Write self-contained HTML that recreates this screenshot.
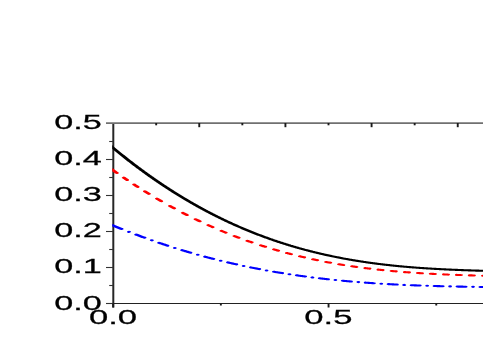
<!DOCTYPE html>
<html><head><meta charset="utf-8"><style>
html,body{margin:0;padding:0;background:#fff;}
svg{display:block;will-change:transform;}
text{font-family:"Liberation Sans",sans-serif;font-size:20.9px;fill:#000;stroke:#000;stroke-width:0.35;vector-effect:non-scaling-stroke;}
.tk{stroke:#333;stroke-width:1.1;}
.tk2{stroke:#1a1a1a;stroke-width:1.9;}
.cv path{fill:none;stroke-width:2.1;stroke-linecap:round;}
</style></head><body>
<svg width="483" height="345" viewBox="0 0 483 345">
<rect width="483" height="345" fill="#fff"/>
<line x1="113.3" y1="303.5" x2="483" y2="303.5" stroke="#222" stroke-width="1.1"/>
<line x1="113.3" y1="123" x2="113.3" y2="307.5" stroke="#262626" stroke-width="2"/>
<line x1="106.0" y1="123.2" x2="483" y2="123.2" stroke="#707070" stroke-width="1.7"/>
<line x1="106.0" y1="303.5" x2="113.3" y2="303.5" class="tk"/>
<line x1="106.0" y1="267.5" x2="113.3" y2="267.5" class="tk"/>
<line x1="106.0" y1="231.5" x2="113.3" y2="231.5" class="tk"/>
<line x1="106.0" y1="195.5" x2="113.3" y2="195.5" class="tk"/>
<line x1="106.0" y1="159.5" x2="113.3" y2="159.5" class="tk"/>
<line x1="109.2" y1="285.5" x2="113.3" y2="285.5" class="tk"/>
<line x1="109.2" y1="249.5" x2="113.3" y2="249.5" class="tk"/>
<line x1="109.2" y1="213.5" x2="113.3" y2="213.5" class="tk"/>
<line x1="109.2" y1="177.5" x2="113.3" y2="177.5" class="tk"/>
<line x1="109.2" y1="141.5" x2="113.3" y2="141.5" class="tk"/>
<line x1="156.18" y1="123" x2="156.18" y2="125.3" class="tk2"/>
<line x1="199.26" y1="123" x2="199.26" y2="127.2" class="tk2"/>
<line x1="242.34" y1="123" x2="242.34" y2="125.3" class="tk2"/>
<line x1="285.42" y1="123" x2="285.42" y2="127.2" class="tk2"/>
<line x1="328.50" y1="123" x2="328.50" y2="125.3" class="tk2"/>
<line x1="371.58" y1="123" x2="371.58" y2="127.2" class="tk2"/>
<line x1="414.66" y1="123" x2="414.66" y2="125.3" class="tk2"/>
<line x1="457.74" y1="123" x2="457.74" y2="127.2" class="tk2"/>
<line x1="113.15" y1="303.5" x2="113.15" y2="307.5" class="tk2"/>
<line x1="220.85" y1="303.5" x2="220.85" y2="305.5" class="tk2"/>
<line x1="328.55" y1="303.5" x2="328.55" y2="307.5" class="tk2"/>
<line x1="436.25" y1="303.5" x2="436.25" y2="305.5" class="tk2"/>
<clipPath id="cp"><rect x="62.389" y="100" width="400" height="220"/></clipPath>
<g class="cv" transform="scale(1.8,1)" clip-path="url(#cp)">
<path d="M60.722,223.91 L60.848,224.01 L61.189,224.26 L61.530,224.52 L61.871,224.78 L62.211,225.03 L62.552,225.29 L62.893,225.54 L63.234,225.80 L63.574,226.05 L63.915,226.30 L64.256,226.55 L64.597,226.81 L64.938,227.06 L65.278,227.31 L65.619,227.56 L65.960,227.80 L66.301,228.05 L66.642,228.30 L66.982,228.55 L67.323,228.79 L67.556,228.96 M71.622,231.85 L71.633,231.86 M75.689,234.65 L75.843,234.75 L76.183,234.98 L76.524,235.21 L76.865,235.44 L77.206,235.67 L77.547,235.90 L77.887,236.12 L78.228,236.35 L78.569,236.57 L78.910,236.80 L79.250,237.02 L79.591,237.25 L79.932,237.47 L80.273,237.69 L80.300,237.71 M84.367,240.32 L84.378,240.33 M88.433,242.84 L88.452,242.85 L88.792,243.06 L89.133,243.27 L89.474,243.48 L89.815,243.68 L90.156,243.89 L90.496,244.09 L90.837,244.29 L91.178,244.50 L91.519,244.70 L91.859,244.90 L92.200,245.10 L92.541,245.30 L92.882,245.50 L93.044,245.60 M97.111,247.94 L97.122,247.94 M101.178,250.19 L101.401,250.31 L101.742,250.50 L102.083,250.68 L102.424,250.87 L102.764,251.05 L103.105,251.23 L103.446,251.41 L103.787,251.60 L104.128,251.78 L104.468,251.96 L104.809,252.14 L105.150,252.32 L105.491,252.49 L105.789,252.65 M109.856,254.73 L109.867,254.73 M113.922,256.72 L114.010,256.77 L114.351,256.93 L114.692,257.09 L115.033,257.25 L115.373,257.42 L115.714,257.58 L116.055,257.74 L116.396,257.90 L116.737,258.06 L117.077,258.22 L117.418,258.37 L117.759,258.53 L118.100,258.69 L118.440,258.85 L118.533,258.89 M122.600,260.72 L122.611,260.72 M126.667,262.46 L126.960,262.59 L127.301,262.73 L127.642,262.87 L127.982,263.01 L128.323,263.15 L128.664,263.29 L129.005,263.43 L129.346,263.57 L129.686,263.71 L130.027,263.85 L130.368,263.99 L130.709,264.13 L131.049,264.26 L131.278,264.35 M135.344,265.94 L135.356,265.94 M139.411,267.45 L139.569,267.51 L139.910,267.63 L140.251,267.75 L140.591,267.88 L140.932,268.00 L141.273,268.12 L141.614,268.24 L141.954,268.36 L142.295,268.48 L142.636,268.60 L142.977,268.72 L143.318,268.84 L143.658,268.95 L143.999,269.07 L144.022,269.08 M148.089,270.44 L148.100,270.44 M152.156,271.73 L152.178,271.73 L152.519,271.84 L152.860,271.94 L153.200,272.05 L153.541,272.15 L153.882,272.25 L154.223,272.36 L154.563,272.46 L154.904,272.56 L155.245,272.66 L155.586,272.76 L155.927,272.86 L156.267,272.96 L156.608,273.06 L156.767,273.11 M160.833,274.25 L160.844,274.26 M164.900,275.33 L165.128,275.39 L165.468,275.48 L165.809,275.57 L166.150,275.65 L166.491,275.74 L166.832,275.83 L167.172,275.91 L167.513,276.00 L167.854,276.08 L168.195,276.16 L168.536,276.25 L168.876,276.33 L169.217,276.41 L169.511,276.48 M173.578,277.43 L173.589,277.44 M177.644,278.32 L177.737,278.34 L178.077,278.41 L178.418,278.49 L178.759,278.56 L179.100,278.63 L179.441,278.70 L179.781,278.77 L180.122,278.84 L180.463,278.91 L180.804,278.97 L181.144,279.04 L181.485,279.11 L181.826,279.18 L182.167,279.24 L182.256,279.26 M186.322,280.03 L186.333,280.03 M190.389,280.75 L190.686,280.80 L191.027,280.85 L191.368,280.91 L191.709,280.97 L192.050,281.02 L192.390,281.08 L192.731,281.14 L193.072,281.19 L193.413,281.24 L193.753,281.30 L194.094,281.35 L194.435,281.41 L194.776,281.46 L195.000,281.50 M199.067,282.10 L199.078,282.10 M203.133,282.66 L203.295,282.68 L203.636,282.73 L203.977,282.77 L204.318,282.82 L204.658,282.86 L204.999,282.90 L205.340,282.95 L205.681,282.99 L206.022,283.03 L206.362,283.07 L206.703,283.12 L207.044,283.16 L207.385,283.20 L207.726,283.24 L207.744,283.24 M211.811,283.71 L211.815,283.71 L211.822,283.71 M215.878,284.13 L215.904,284.14 L216.245,284.17 L216.586,284.20 L216.927,284.24 L217.267,284.27 L217.608,284.30 L217.949,284.34 L218.290,284.37 L218.631,284.40 L218.971,284.43 L219.312,284.46 L219.653,284.49 L219.994,284.52 L220.335,284.56 L220.489,284.57 M224.556,284.91 L224.567,284.92 M228.622,285.23 L228.854,285.24 L229.195,285.27 L229.536,285.29 L229.876,285.32 L230.217,285.34 L230.558,285.36 L230.899,285.39 L231.240,285.41 L231.580,285.43 L231.921,285.46 L232.262,285.48 L232.603,285.50 L232.943,285.52 L233.233,285.54 M237.300,285.79 L237.311,285.79 M241.367,286.01 L241.463,286.02 L241.804,286.03 L242.145,286.05 L242.485,286.07 L242.826,286.09 L243.167,286.10 L243.508,286.12 L243.849,286.14 L244.189,286.15 L244.530,286.17 L244.871,286.18 L245.212,286.20 L245.552,286.22 L245.893,286.23 L245.978,286.23 M250.044,286.41 L250.056,286.41 M254.111,286.57 L254.413,286.58 L254.754,286.59 L255.094,286.60 L255.435,286.61 L255.776,286.63 L256.117,286.64 L256.457,286.65 L256.798,286.66 L257.139,286.67 L257.480,286.68 L257.821,286.69 L258.161,286.71 L258.502,286.72 L258.722,286.72 M262.789,286.85 L262.800,286.85 M266.856,286.97 L267.022,286.97 L267.363,286.98 L267.703,286.99 L268.044,287.00 L268.385,287.01 L268.726,287.02 L269.066,287.03 L269.407,287.04 L269.748,287.05 L270.089,287.06 L270.430,287.06 L270.770,287.07 L271.111,287.08" stroke="#0000ff"/>
<path d="M60.778,167.66 L60.848,167.75 L61.189,168.19 L61.530,168.63 L61.871,169.07 L62.211,169.50 L62.552,169.94 L62.893,170.37 L63.234,170.81 L63.574,171.24 L63.915,171.67 L64.256,172.10 L64.597,172.53 L64.886,172.90 M68.750,177.69 L69.027,178.02 L69.368,178.44 L69.709,178.85 L70.049,179.26 L70.390,179.68 L70.636,179.97 M74.500,184.56 L74.820,184.93 L75.161,185.33 L75.502,185.72 L75.843,186.12 L76.183,186.51 L76.468,186.84 M80.500,191.40 L80.614,191.53 L80.954,191.91 L81.295,192.28 L81.636,192.66 L81.977,193.04 L82.318,193.41 L82.658,193.78 L82.687,193.81 M87.167,198.63 L87.429,198.90 L87.770,199.26 L88.111,199.62 L88.452,199.97 L88.792,200.33 L89.133,200.68 L89.474,201.03 L89.554,201.12 M94.444,206.06 L94.586,206.20 L94.926,206.53 L95.267,206.87 L95.608,207.20 L95.949,207.54 L96.290,207.87 L96.630,208.20 L96.777,208.34 M101.556,212.87 L101.742,213.05 L102.083,213.36 L102.424,213.67 L102.764,213.99 L103.105,214.30 L103.446,214.61 L103.787,214.92 L103.888,215.01 M108.667,219.25 L108.899,219.45 L109.239,219.75 L109.580,220.04 L109.921,220.33 L110.262,220.62 L110.602,220.91 L110.943,221.20 L110.999,221.25 M115.778,225.20 L116.055,225.43 L116.396,225.70 L116.737,225.98 L117.077,226.25 L117.418,226.52 L117.759,226.79 L118.100,227.06 L118.165,227.11 M123.056,230.87 L123.211,230.98 L123.552,231.24 L123.893,231.49 L124.234,231.74 L124.575,231.99 L124.915,232.24 L125.256,232.49 L125.415,232.61 M130.250,236.04 L130.368,236.13 L130.709,236.36 L131.049,236.60 L131.390,236.83 L131.731,237.06 L132.072,237.29 L132.413,237.52 L132.610,237.65 M137.444,240.82 L137.524,240.87 L137.865,241.09 L138.206,241.30 L138.547,241.52 L138.887,241.73 L139.228,241.94 L139.569,242.15 L139.910,242.37 L139.914,242.37 M144.972,245.40 L145.022,245.43 L145.362,245.62 L145.703,245.82 L146.044,246.02 L146.385,246.21 L146.725,246.40 L147.066,246.60 L147.350,246.76 M152.222,249.42 L152.519,249.57 L152.860,249.75 L153.200,249.93 L153.541,250.11 L153.882,250.28 L154.223,250.46 L154.563,250.63 L154.566,250.64 M159.367,253.02 L159.675,253.16 L160.016,253.33 L160.357,253.49 L160.698,253.65 L161.038,253.81 L161.379,253.97 L161.720,254.13 L161.743,254.14 M166.611,256.31 L166.832,256.41 L167.172,256.56 L167.513,256.70 L167.854,256.85 L168.195,256.99 L168.536,257.13 L168.876,257.28 L168.998,257.33 M173.889,259.29 L173.988,259.33 L174.329,259.46 L174.670,259.59 L175.010,259.72 L175.351,259.85 L175.692,259.97 L176.033,260.10 L176.264,260.19 M181.130,261.93 L181.144,261.93 L181.485,262.05 L181.826,262.16 L182.167,262.28 L182.508,262.39 L182.848,262.51 L183.189,262.62 L183.505,262.72 M188.370,264.26 L188.642,264.34 L188.982,264.45 L189.323,264.55 L189.664,264.65 L190.005,264.75 L190.346,264.85 L190.686,264.95 L190.745,264.96 M195.611,266.31 L195.798,266.36 L196.139,266.45 L196.480,266.54 L196.820,266.63 L197.161,266.72 L197.502,266.80 L197.843,266.89 L198.004,266.93 M202.907,268.11 L202.955,268.12 L203.295,268.20 L203.636,268.27 L203.977,268.35 L204.318,268.43 L204.658,268.50 L204.999,268.58 L205.301,268.64 M210.204,269.66 L210.452,269.70 L210.793,269.77 L211.133,269.84 L211.474,269.90 L211.815,269.97 L212.156,270.03 L212.496,270.09 L212.597,270.11 M217.500,270.97 L217.608,270.99 L217.949,271.05 L218.290,271.10 L218.631,271.16 L218.971,271.22 L219.312,271.27 L219.653,271.32 L219.924,271.37 M224.889,272.10 L225.105,272.13 L225.446,272.18 L225.787,272.22 L226.128,272.27 L226.469,272.32 L226.809,272.36 L227.150,272.41 L227.258,272.42 M232.111,273.02 L232.262,273.03 L232.603,273.07 L232.943,273.11 L233.284,273.15 L233.625,273.19 L233.966,273.23 L234.307,273.26 L234.462,273.28 M239.278,273.77 L239.418,273.79 L239.759,273.82 L240.100,273.85 L240.441,273.88 L240.781,273.91 L241.122,273.94 L241.463,273.97 L241.683,273.99 M246.611,274.41 L246.916,274.43 L247.256,274.46 L247.597,274.48 L247.938,274.51 L248.279,274.54 L248.619,274.56 L248.960,274.59 L248.962,274.59 M253.778,274.92 L254.072,274.94 L254.413,274.96 L254.754,274.98 L255.094,275.00 L255.435,275.03 L255.776,275.05 L256.117,275.07 L256.128,275.07 M260.944,275.35 L261.228,275.36 L261.569,275.38 L261.910,275.40 L262.251,275.42 L262.592,275.44 L262.932,275.46 L263.273,275.47 L263.350,275.48 M268.278,275.73 L268.385,275.73 L268.726,275.75 L269.066,275.77 L269.407,275.78 L269.748,275.80 L270.089,275.82 L270.430,275.83 L270.665,275.84" stroke="#ff0000"/>
<path d="M60.167,143.88 L60.507,144.39 L60.848,144.91 L61.189,145.43 L61.530,145.94 L61.871,146.45 L62.211,146.96 L62.552,147.47 L62.893,147.98 L63.234,148.49 L63.574,149.00 L63.915,149.50 L64.256,150.01 L64.597,150.51 L64.938,151.01 L65.278,151.51 L65.619,152.01 L65.960,152.51 L66.301,153.00 L66.642,153.50 L66.982,153.99 L67.323,154.49 L67.664,154.98 L68.005,155.47 L68.345,155.96 L68.686,156.44 L69.027,156.93 L69.368,157.42 L69.709,157.90 L70.049,158.38 L70.390,158.86 L70.731,159.34 L71.072,159.82 L71.412,160.30 L71.753,160.78 L72.094,161.25 L72.435,161.73 L72.776,162.20 L73.116,162.67 L73.457,163.14 L73.798,163.61 L74.139,164.08 L74.480,164.54 L74.820,165.01 L75.161,165.47 L75.502,165.93 L75.843,166.39 L76.183,166.85 L76.524,167.31 L76.865,167.77 L77.206,168.23 L77.547,168.68 L77.887,169.14 L78.228,169.59 L78.569,170.04 L78.910,170.49 L79.250,170.94 L79.591,171.39 L79.932,171.83 L80.273,172.28 L80.614,172.72 L80.954,173.17 L81.295,173.61 L81.636,174.05 L81.977,174.49 L82.318,174.92 L82.658,175.36 L82.999,175.80 L83.340,176.23 L83.681,176.66 L84.021,177.09 L84.362,177.53 L84.703,177.95 L85.044,178.38 L85.385,178.81 L85.725,179.23 L86.066,179.66 L86.407,180.08 L86.748,180.50 L87.088,180.92 L87.429,181.34 L87.770,181.76 L88.111,182.18 L88.452,182.60 L88.792,183.01 L89.133,183.42 L89.474,183.84 L89.815,184.25 L90.156,184.66 L90.496,185.07 L90.837,185.47 L91.178,185.88 L91.519,186.28 L91.859,186.69 L92.200,187.09 L92.541,187.49 L92.882,187.89 L93.223,188.29 L93.563,188.69 L93.904,189.08 L94.245,189.48 L94.586,189.87 L94.926,190.27 L95.267,190.66 L95.608,191.05 L95.949,191.44 L96.290,191.83 L96.630,192.21 L96.971,192.60 L97.312,192.98 L97.653,193.37 L97.994,193.75 L98.334,194.13 L98.675,194.51 L99.016,194.89 L99.357,195.27 L99.697,195.64 L100.038,196.02 L100.379,196.39 L100.720,196.77 L101.061,197.14 L101.401,197.51 L101.742,197.88 L102.083,198.25 L102.424,198.61 L102.764,198.98 L103.105,199.34 L103.446,199.71 L103.787,200.07 L104.128,200.43 L104.468,200.79 L104.809,201.15 L105.150,201.51 L105.491,201.86 L105.832,202.22 L106.172,202.57 L106.513,202.93 L106.854,203.28 L107.195,203.63 L107.535,203.98 L107.876,204.33 L108.217,204.67 L108.558,205.02 L108.899,205.36 L109.239,205.71 L109.580,206.05 L109.921,206.39 L110.262,206.73 L110.602,207.07 L110.943,207.41 L111.284,207.75 L111.625,208.08 L111.966,208.42 L112.306,208.75 L112.647,209.08 L112.988,209.41 L113.329,209.74 L113.670,210.07 L114.010,210.40 L114.351,210.73 L114.692,211.05 L115.033,211.38 L115.373,211.70 L115.714,212.02 L116.055,212.35 L116.396,212.67 L116.737,212.98 L117.077,213.30 L117.418,213.62 L117.759,213.93 L118.100,214.25 L118.440,214.56 L118.781,214.87 L119.122,215.19 L119.463,215.50 L119.804,215.80 L120.144,216.11 L120.485,216.42 L120.826,216.72 L121.167,217.03 L121.508,217.33 L121.848,217.63 L122.189,217.94 L122.530,218.24 L122.871,218.53 L123.211,218.83 L123.552,219.13 L123.893,219.43 L124.234,219.72 L124.575,220.01 L124.915,220.31 L125.256,220.60 L125.597,220.89 L125.938,221.18 L126.278,221.46 L126.619,221.75 L126.960,222.04 L127.301,222.32 L127.642,222.61 L127.982,222.89 L128.323,223.17 L128.664,223.45 L129.005,223.73 L129.346,224.01 L129.686,224.29 L130.027,224.56 L130.368,224.84 L130.709,225.11 L131.049,225.39 L131.390,225.66 L131.731,225.93 L132.072,226.20 L132.413,226.47 L132.753,226.74 L133.094,227.00 L133.435,227.27 L133.776,227.53 L134.116,227.80 L134.457,228.06 L134.798,228.32 L135.139,228.58 L135.480,228.84 L135.820,229.10 L136.161,229.36 L136.502,229.61 L136.843,229.87 L137.184,230.12 L137.524,230.38 L137.865,230.63 L138.206,230.88 L138.547,231.13 L138.887,231.38 L139.228,231.63 L139.569,231.87 L139.910,232.12 L140.251,232.37 L140.591,232.61 L140.932,232.85 L141.273,233.10 L141.614,233.34 L141.954,233.58 L142.295,233.82 L142.636,234.05 L142.977,234.29 L143.318,234.53 L143.658,234.76 L143.999,235.00 L144.340,235.23 L144.681,235.46 L145.022,235.69 L145.362,235.92 L145.703,236.15 L146.044,236.38 L146.385,236.61 L146.725,236.83 L147.066,237.06 L147.407,237.28 L147.748,237.50 L148.089,237.73 L148.429,237.95 L148.770,238.17 L149.111,238.39 L149.452,238.61 L149.792,238.82 L150.133,239.04 L150.474,239.26 L150.815,239.47 L151.156,239.68 L151.496,239.90 L151.837,240.11 L152.178,240.32 L152.519,240.53 L152.860,240.74 L153.200,240.94 L153.541,241.15 L153.882,241.36 L154.223,241.56 L154.563,241.77 L154.904,241.97 L155.245,242.17 L155.586,242.37 L155.927,242.57 L156.267,242.77 L156.608,242.97 L156.949,243.17 L157.290,243.36 L157.630,243.56 L157.971,243.75 L158.312,243.95 L158.653,244.14 L158.994,244.33 L159.334,244.52 L159.675,244.71 L160.016,244.90 L160.357,245.09 L160.698,245.28 L161.038,245.46 L161.379,245.65 L161.720,245.83 L162.061,246.02 L162.401,246.20 L162.742,246.38 L163.083,246.56 L163.424,246.74 L163.765,246.92 L164.105,247.10 L164.446,247.28 L164.787,247.45 L165.128,247.63 L165.468,247.80 L165.809,247.98 L166.150,248.15 L166.491,248.32 L166.832,248.49 L167.172,248.66 L167.513,248.83 L167.854,249.00 L168.195,249.17 L168.536,249.34 L168.876,249.50 L169.217,249.67 L169.558,249.83 L169.899,250.00 L170.239,250.16 L170.580,250.32 L170.921,250.48 L171.262,250.64 L171.603,250.80 L171.943,250.96 L172.284,251.12 L172.625,251.27 L172.966,251.43 L173.306,251.58 L173.647,251.74 L173.988,251.89 L174.329,252.04 L174.670,252.19 L175.010,252.34 L175.351,252.49 L175.692,252.64 L176.033,252.79 L176.374,252.94 L176.714,253.09 L177.055,253.23 L177.396,253.38 L177.737,253.52 L178.077,253.66 L178.418,253.81 L178.759,253.95 L179.100,254.09 L179.441,254.23 L179.781,254.37 L180.122,254.51 L180.463,254.65 L180.804,254.78 L181.144,254.92 L181.485,255.05 L181.826,255.19 L182.167,255.32 L182.508,255.46 L182.848,255.59 L183.189,255.72 L183.530,255.85 L183.871,255.98 L184.212,256.11 L184.552,256.24 L184.893,256.37 L185.234,256.49 L185.575,256.62 L185.915,256.74 L186.256,256.87 L186.597,256.99 L186.938,257.12 L187.279,257.24 L187.619,257.36 L187.960,257.48 L188.301,257.60 L188.642,257.72 L188.982,257.84 L189.323,257.96 L189.664,258.07 L190.005,258.19 L190.346,258.31 L190.686,258.42 L191.027,258.54 L191.368,258.65 L191.709,258.76 L192.050,258.88 L192.390,258.99 L192.731,259.10 L193.072,259.21 L193.413,259.32 L193.753,259.43 L194.094,259.53 L194.435,259.64 L194.776,259.75 L195.117,259.85 L195.457,259.96 L195.798,260.06 L196.139,260.17 L196.480,260.27 L196.820,260.37 L197.161,260.47 L197.502,260.57 L197.843,260.67 L198.184,260.77 L198.524,260.87 L198.865,260.97 L199.206,261.07 L199.547,261.17 L199.888,261.26 L200.228,261.36 L200.569,261.45 L200.910,261.55 L201.251,261.64 L201.591,261.73 L201.932,261.83 L202.273,261.92 L202.614,262.01 L202.955,262.10 L203.295,262.19 L203.636,262.28 L203.977,262.37 L204.318,262.45 L204.658,262.54 L204.999,262.63 L205.340,262.71 L205.681,262.80 L206.022,262.89 L206.362,262.97 L206.703,263.05 L207.044,263.14 L207.385,263.22 L207.726,263.30 L208.066,263.38 L208.407,263.46 L208.748,263.54 L209.089,263.62 L209.429,263.70 L209.770,263.78 L210.111,263.86 L210.452,263.93 L210.793,264.01 L211.133,264.08 L211.474,264.16 L211.815,264.23 L212.156,264.31 L212.496,264.38 L212.837,264.46 L213.178,264.53 L213.519,264.60 L213.860,264.67 L214.200,264.74 L214.541,264.81 L214.882,264.88 L215.223,264.95 L215.564,265.02 L215.904,265.09 L216.245,265.15 L216.586,265.22 L216.927,265.29 L217.267,265.35 L217.608,265.42 L217.949,265.48 L218.290,265.55 L218.631,265.61 L218.971,265.67 L219.312,265.74 L219.653,265.80 L219.994,265.86 L220.335,265.92 L220.675,265.98 L221.016,266.04 L221.357,266.10 L221.698,266.16 L222.038,266.22 L222.379,266.28 L222.720,266.34 L223.061,266.39 L223.402,266.45 L223.742,266.51 L224.083,266.56 L224.424,266.62 L224.765,266.67 L225.105,266.73 L225.446,266.78 L225.787,266.83 L226.128,266.89 L226.469,266.94 L226.809,266.99 L227.150,267.04 L227.491,267.09 L227.832,267.14 L228.173,267.19 L228.513,267.24 L228.854,267.29 L229.195,267.34 L229.536,267.39 L229.876,267.44 L230.217,267.49 L230.558,267.53 L230.899,267.58 L231.240,267.63 L231.580,267.67 L231.921,267.72 L232.262,267.76 L232.603,267.81 L232.943,267.85 L233.284,267.90 L233.625,267.94 L233.966,267.98 L234.307,268.02 L234.647,268.07 L234.988,268.11 L235.329,268.15 L235.670,268.19 L236.011,268.23 L236.351,268.27 L236.692,268.31 L237.033,268.35 L237.374,268.39 L237.714,268.43 L238.055,268.47 L238.396,268.51 L238.737,268.54 L239.078,268.58 L239.418,268.62 L239.759,268.66 L240.100,268.69 L240.441,268.73 L240.781,268.76 L241.122,268.80 L241.463,268.83 L241.804,268.87 L242.145,268.90 L242.485,268.94 L242.826,268.97 L243.167,269.00 L243.508,269.04 L243.849,269.07 L244.189,269.10 L244.530,269.13 L244.871,269.17 L245.212,269.20 L245.552,269.23 L245.893,269.26 L246.234,269.29 L246.575,269.32 L246.916,269.35 L247.256,269.38 L247.597,269.41 L247.938,269.44 L248.279,269.47 L248.619,269.50 L248.960,269.53 L249.301,269.55 L249.642,269.58 L249.983,269.61 L250.323,269.64 L250.664,269.66 L251.005,269.69 L251.346,269.72 L251.687,269.74 L252.027,269.77 L252.368,269.80 L252.709,269.82 L253.050,269.85 L253.390,269.87 L253.731,269.90 L254.072,269.92 L254.413,269.95 L254.754,269.97 L255.094,269.99 L255.435,270.02 L255.776,270.04 L256.117,270.07 L256.457,270.09 L256.798,270.11 L257.139,270.13 L257.480,270.16 L257.821,270.18 L258.161,270.20 L258.502,270.22 L258.843,270.25 L259.184,270.27 L259.525,270.29 L259.865,270.31 L260.206,270.33 L260.547,270.35 L260.888,270.38 L261.228,270.40 L261.569,270.42 L261.910,270.44 L262.251,270.46 L262.592,270.48 L262.932,270.50 L263.273,270.52 L263.614,270.54 L263.955,270.56 L264.295,270.58 L264.636,270.60 L264.977,270.62 L265.318,270.64 L265.659,270.65 L265.999,270.67 L266.340,270.69 L266.681,270.71 L267.022,270.73 L267.363,270.75 L267.703,270.77 L268.044,270.79 L268.385,270.80 L268.726,270.82 L269.066,270.84 L269.407,270.86 L269.748,270.88 L270.089,270.90 L270.430,270.91 L270.770,270.93 L271.111,270.95" stroke="#000"/>
</g>
<text transform="translate(101.8,309.5) scale(1.64,1)" text-anchor="end">0.0</text>
<text transform="translate(101.8,273.3) scale(1.64,1)" text-anchor="end">0.1</text>
<text transform="translate(101.8,237.1) scale(1.64,1)" text-anchor="end">0.2</text>
<text transform="translate(101.8,200.9) scale(1.64,1)" text-anchor="end">0.3</text>
<text transform="translate(101.8,164.7) scale(1.64,1)" text-anchor="end">0.4</text>
<text transform="translate(101.8,128.5) scale(1.64,1)" text-anchor="end">0.5</text>
<text transform="translate(113.0,324.4) scale(1.66,1)" text-anchor="middle">0.0</text>
<text transform="translate(328.4,324.4) scale(1.66,1)" text-anchor="middle">0.5</text>
</svg>
</body></html>
